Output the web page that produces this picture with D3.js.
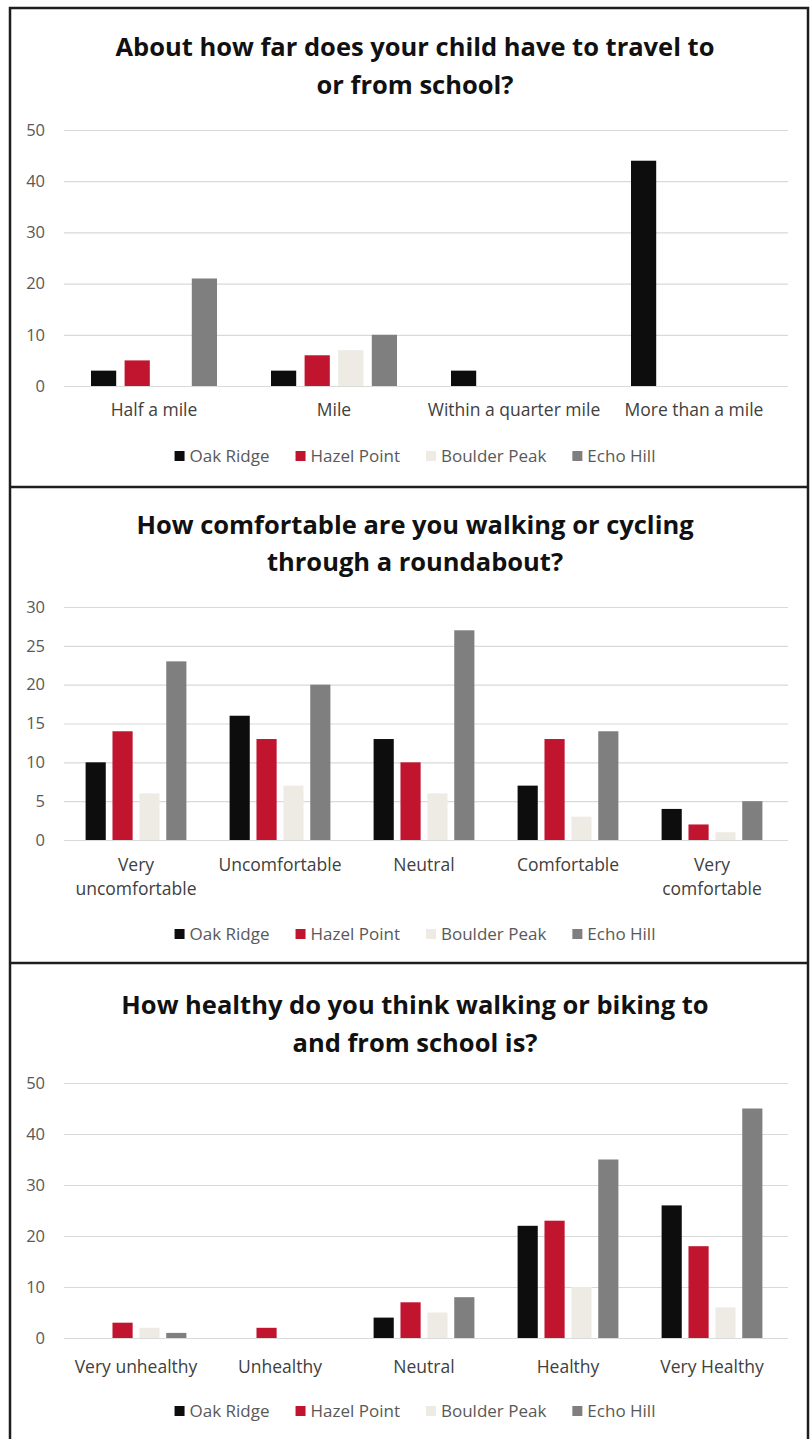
<!DOCTYPE html>
<html>
<head>
<meta charset="utf-8">
<script src="https://cdn.jsdelivr.net/npm/d3@7"></script>
<style>
  body { margin: 0; background: #fff; }
  text { font-family: "Open Sans", Lato, sans-serif; }
</style>
</head>
<body>
<div id="content"></div>
<script>
// series shared by all three panels
const schools = ["Oak Ridge", "Hazel Point", "Boulder Peak", "Echo Hill"];
const schoolColors = ["#0d0d0d", "#c0142f", "#eeebe4", "#7f7f7f"];

// panel 1
const distTitle = ["About how far does your child have to travel to", "or from school?"];
const distCats = ["Half a mile", "Mile", "Within a quarter mile", "More than a mile"];
const distOak = [3, 3, 3, 44];
const distHazel = [5, 6, 0, 0];
const distBoulder = [0, 7, 0, 0];
const distEcho = [21, 10, 0, 0];
const distTicks = [0, 10, 20, 30, 40, 50];

// panel 2
const roundTitle = ["How comfortable are you walking or cycling", "through a roundabout?"];
const roundCats = ["Very uncomfortable", "Uncomfortable", "Neutral", "Comfortable", "Very comfortable"];
const roundOak = [10, 16, 13, 7, 4];
const roundHazel = [14, 13, 10, 13, 2];
const roundBoulder = [6, 7, 6, 3, 1];
const roundEcho = [23, 20, 27, 14, 5];
const roundTicks = [0, 5, 10, 15, 20, 25, 30];

// panel 3
const healthTitle = ["How healthy do you think walking or biking to", "and from school is?"];
const healthCats = ["Very unhealthy", "Unhealthy", "Neutral", "Healthy", "Very Healthy"];
const healthOak = [0, 0, 4, 22, 26];
const healthHazel = [3, 2, 7, 23, 18];
const healthBoulder = [2, 0, 5, 10, 6];
const healthEcho = [1, 0, 8, 35, 45];
const healthTicks = [0, 10, 20, 30, 40, 50];

const W = 811, H = 1439;
const svg = d3.select("#content").append("svg")
    .attr("width", W)
    .attr("height", H);

const panels = [
    { title: distTitle, cats: distCats, vals: [distOak, distHazel, distBoulder, distEcho],
      ticks: distTicks, titleY: [47, 85], plotTop: 130, plotBottom: 386, labelY: 410, legendY: 456, wrap: false },
    { title: roundTitle, cats: roundCats, vals: [roundOak, roundHazel, roundBoulder, roundEcho],
      ticks: roundTicks, titleY: [525, 562], plotTop: 607, plotBottom: 840, labelY: 865, legendY: 934, wrap: true },
    { title: healthTitle, cats: healthCats, vals: [healthOak, healthHazel, healthBoulder, healthEcho],
      ticks: healthTicks, titleY: [1005, 1043], plotTop: 1083, plotBottom: 1338, labelY: 1367, legendY: 1411, wrap: false }
];

panels.forEach(drawPanel);

// frame and separators
svg.append("rect")
    .attr("x", 10).attr("y", 8)
    .attr("width", 798).attr("height", H + 10)
    .attr("fill", "none")
    .attr("stroke", "#1e1e1e")
    .attr("stroke-width", 2.5);
[487, 963].forEach(function (y) {
    svg.append("line")
        .attr("x1", 10).attr("x2", 808)
        .attr("y1", y).attr("y2", y)
        .attr("stroke", "#1e1e1e")
        .attr("stroke-width", 2.5);
});

function drawPanel(p) {
    const g = svg.append("g");
    const left = 64, right = 784;

    const x0 = d3.scaleBand().domain(p.cats).range([left, right]).padding(0);
    const bw = x0.bandwidth();
    const x1 = d3.scaleBand().domain(schools)
        .range([bw * 0.15, bw * 0.85])
        .paddingInner(0.25).paddingOuter(0);
    const y = d3.scaleLinear()
        .domain([0, d3.max(p.ticks)])
        .range([p.plotBottom, p.plotTop]);

    // title
    g.selectAll(".title")
        .data(p.title)
        .enter().append("text")
        .attr("x", 415)
        .attr("y", function (d, i) { return p.titleY[i]; })
        .attr("dy", "0.35em")
        .attr("text-anchor", "middle")
        .style("font-size", "25.5px")
        .style("font-weight", "bold")
        .style("fill", "#111")
        .text(function (d) { return d; });

    // gridlines + tick labels
    const yAxis = d3.axisLeft(y)
        .tickValues(p.ticks)
        .tickSize(-(right + 4 - left))
        .tickPadding(19);
    const ax = g.append("g")
        .attr("transform", "translate(" + left + ",0)")
        .call(yAxis);
    ax.select(".domain").remove();
    ax.selectAll(".tick line")
        .attr("stroke", "#d9d9d9")
        .attr("stroke-width", 1.2);
    ax.selectAll(".tick text")
        .style("font-family", "'Open Sans', sans-serif")
        .style("font-size", "16.5px")
        .style("fill", "#595959");

    // bars
    const rows = p.cats.map(function (c, i) {
        return { cat: c, values: schools.map(function (s, k) { return { key: s, k: k, v: p.vals[k][i] }; }) };
    });
    const groups = g.selectAll(".grp")
        .data(rows)
        .enter().append("g")
        .attr("transform", function (d) { return "translate(" + x0(d.cat) + ",0)"; });
    groups.selectAll("rect")
        .data(function (d) { return d.values; })
        .enter().append("rect")
        .attr("x", function (d) { return x1(d.key); })
        .attr("width", x1.bandwidth())
        .attr("y", function (d) { return y(d.v); })
        .attr("height", function (d) { return y(0) - y(d.v); })
        .attr("fill", function (d) { return schoolColors[d.k]; });

    // category labels
    const labels = g.selectAll(".cat")
        .data(p.cats)
        .enter().append("text")
        .attr("x", function (d) { return x0(d) + bw / 2; })
        .attr("y", p.labelY)
        .attr("dy", "0.35em")
        .attr("text-anchor", "middle")
        .style("font-size", "17.5px")
        .style("fill", "#404040");
    labels.each(function (d) {
        const t = d3.select(this);
        const words = d.split(" ");
        if (p.wrap && words.length > 1) {
            t.append("tspan").attr("x", x0(d) + bw / 2).text(words[0]);
            t.append("tspan").attr("x", x0(d) + bw / 2).attr("dy", "24px").text(words.slice(1).join(" "));
        } else {
            t.text(d);
        }
    });

    // legend
    const leg = g.append("g");
    let cx = 0;
    schools.forEach(function (s, k) {
        const item = leg.append("g").attr("transform", "translate(" + cx + ",0)");
        item.append("rect")
            .attr("x", 0).attr("y", p.legendY - 5)
            .attr("width", 10).attr("height", 10)
            .attr("fill", schoolColors[k]);
        const t = item.append("text")
            .attr("x", 15).attr("y", p.legendY)
            .attr("dy", "0.35em")
            .style("font-size", "17px")
            .style("fill", "#595959")
            .text(s);
        cx += 15 + t.node().getComputedTextLength() + 26;
    });
    const legW = cx - 26;
    leg.attr("transform", "translate(" + (415 - legW / 2) + ",0)");
}
</script>
</body>
</html>
